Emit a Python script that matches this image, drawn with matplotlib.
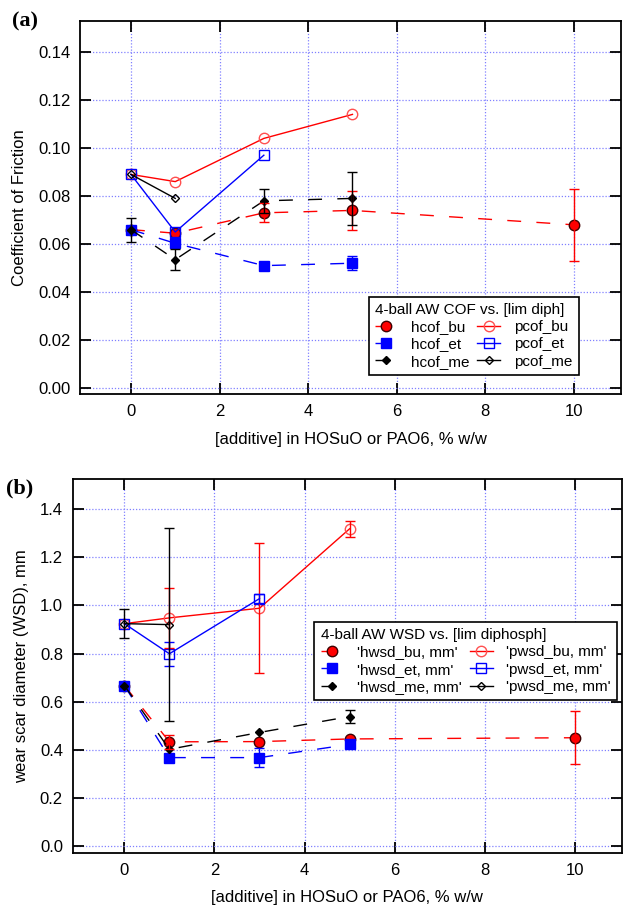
import numpy as np
import matplotlib
matplotlib.use("Agg")
import matplotlib.pyplot as plt

plt.rcParams["font.family"] = ["Liberation Sans", "DejaVu Sans"]

nan = np.nan

# ---- panel (a): coefficient of friction ----
x_bu = [0, 1, 3, 5, 10]
x_et = [0, 1, 3, 5]
x_me = [0, 1, 3, 5]
hcof_bu = [0.066, 0.0645, 0.073, 0.074, 0.068]
hcof_bu_err = [nan, nan, 0.004, 0.008, 0.015]
hcof_et = [0.066, 0.0603, 0.051, 0.052]
hcof_et_err = [nan, nan, nan, 0.003]
hcof_me = [0.066, 0.0535, 0.078, 0.079]
hcof_me_err = [0.005, 0.0045, 0.005, 0.011]

xp_bu = [0, 1, 3, 5]
xp_et = [0, 1, 3]
xp_me = [0, 1]
pcof_bu = [0.089, 0.086, 0.104, 0.114]
pcof_et = [0.089, 0.065, 0.097]
pcof_me = [0.089, 0.079]

# ---- panel (b): wear scar diameter ----
hwsd_bu = [0.667, 0.433, 0.434, 0.445, 0.45]
hwsd_bu_err = [nan, 0.03, nan, nan, 0.11]
hwsd_et = [0.667, 0.3675, 0.3675, 0.422]
hwsd_et_err = [nan, nan, 0.038, nan]
hwsd_me = [0.667, 0.402, 0.472, 0.538]
hwsd_me_err = [nan, nan, nan, 0.028]

pwsd_bu = [0.924, 0.948, 0.988, 1.318]
pwsd_bu_err = [nan, 0.125, 0.27, 0.033]
pwsd_et = [0.924, 0.799, 1.028]
pwsd_et_err = [nan, 0.05, 0.02]
pwsd_me = [0.924, 0.92]
pwsd_me_err = [0.061, 0.40]

RED = "#ff0000"
PINK = "#ff5050"
BLUE = "#0000ff"
BLACK = "#000000"
GRID = "#8080ff"
DASH = (10, 11)


def series(ax, x, y, err, color, marker, ms, label, dashed, filled, mec=None):
    x = np.asarray(x, float)
    y = np.asarray(y, float)
    kw = dict(color=color, lw=1.0, marker=marker, ms=ms, label=label,
              mew=1.0, mec=mec or color, zorder=3)
    kw["mfc"] = color if filled else "none"
    line, = ax.plot(x, y, **kw)
    if dashed:
        line.set_dashes(DASH)
    if err is not None:
        e = np.asarray(err, float)
        m = ~np.isnan(e)
        ax.errorbar(x[m], y[m], yerr=e[m], fmt="none", ecolor=color,
                    elinewidth=1.0, capsize=3.8, capthick=1.0, zorder=4)
    return line


def style_axes(ax, xlim, ylim, yticks, yfmt):
    ax.set_xlim(*xlim)
    ax.set_ylim(*ylim)
    ax.set_xticks([0, 2, 4, 6, 8, 10])
    ax.set_yticks(yticks)
    ax.set_yticklabels([yfmt.format(v) for v in yticks])
    ax.tick_params(direction="in", length=8, width=1.3, top=True, right=True,
                   labelsize=12, pad=7)
    for s in ax.spines.values():
        s.set_linewidth(1.3)
    ax.grid(True, color=GRID, ls=(0, (1, 1.5)), lw=0.9)
    ax.set_axisbelow(True)
    ax.set_xlabel("[additive] in HOSuO or PAO6, % w/w", fontsize=12, labelpad=9)


def add_legend(ax, handles, labels, title, loc, anchor):
    leg = ax.legend(handles, labels, ncol=2, loc=loc, bbox_to_anchor=anchor,
                    title=title, title_fontsize=11, fontsize=11,
                    alignment="left", fancybox=False, framealpha=1,
                    edgecolor="black", handlelength=1.5, handletextpad=0.9,
                    columnspacing=0.5, labelspacing=0.22, borderpad=0.4,
                    borderaxespad=0)
    leg.get_frame().set_linewidth(1.2)
    return leg


fig = plt.figure(figsize=(6.23, 9.06), dpi=100)

# panel (a)
ax1 = fig.add_axes([0.1284, 0.5648, 0.869, 0.412])
h1 = series(ax1, x_bu, hcof_bu, hcof_bu_err, RED, "o", 7.5, "hcof_bu", True, True, mec="#400000")
h2 = series(ax1, x_et, hcof_et, hcof_et_err, BLUE, "s", 7.5, "hcof_et", True, True)
h3 = series(ax1, x_me, hcof_me, hcof_me_err, BLACK, "D", 4.5, "hcof_me", True, True)
p1 = series(ax1, xp_bu, pcof_bu, None, RED, "o", 7.5, "pcof_bu", False, False, mec=PINK)
p2 = series(ax1, xp_et, pcof_et, None, BLUE, "s", 7, "pcof_et", False, False)
p3 = series(ax1, xp_me, pcof_me, None, BLACK, "D", 4.2, "pcof_me", False, False)
style_axes(ax1, (-1.15, 11.07), (-0.0026, 0.1529),
           [0.0, 0.02, 0.04, 0.06, 0.08, 0.10, 0.12, 0.14], "{:.2f}")
ax1.set_ylabel("Coefficient of Friction", fontsize=12, labelpad=8)
add_legend(ax1, [h1, h2, h3, p1, p2, p3],
           ["hcof_bu", "hcof_et", "hcof_me", "pcof_bu", "pcof_et", "pcof_me"],
           "4-ball AW COF vs. [lim diph]", "lower right", (0.921, 0.052))

# panel (b)
ax2 = fig.add_axes([0.1167, 0.0582, 0.8817, 0.4131])
g1 = series(ax2, x_bu, hwsd_bu, hwsd_bu_err, RED, "o", 7.5, "'hwsd_bu, mm'", True, True, mec="#400000")
g2 = series(ax2, x_et, hwsd_et, hwsd_et_err, BLUE, "s", 7.5, "'hwsd_et, mm'", True, True)
g3 = series(ax2, x_me, hwsd_me, hwsd_me_err, BLACK, "D", 4.5, "'hwsd_me, mm'", True, True)
q1 = series(ax2, xp_bu, pwsd_bu, pwsd_bu_err, RED, "o", 7.5, "'pwsd_bu, mm'", False, False, mec=PINK)
q2 = series(ax2, xp_et, pwsd_et, pwsd_et_err, BLUE, "s", 7, "'pwsd_et, mm'", False, False)
q3 = series(ax2, xp_me, pwsd_me, pwsd_me_err, BLACK, "D", 4.2, "'pwsd_me, mm'", False, False)
style_axes(ax2, (-1.147, 11.05), (-0.03, 1.525),
           [0.0, 0.2, 0.4, 0.6, 0.8, 1.0, 1.2, 1.4], "{:.1f}")
ax2.set_ylabel("wear scar diameter (WSD), mm", fontsize=12, labelpad=8)
add_legend(ax2, [g1, g2, g3, q1, q2, q3],
           ["'hwsd_bu, mm'", "'hwsd_et, mm'", "'hwsd_me, mm'",
            "'pwsd_bu, mm'", "'pwsd_et, mm'", "'pwsd_me, mm'"],
           "4-ball AW WSD vs. [lim diphosph]", "upper right", (0.991, 0.618))

fig.text(12 / 623, 1 - 21 / 906, "(a)", family="Liberation Serif",
         fontweight="bold", fontsize=16, va="center", ha="left")
fig.text(6 / 623, 1 - 488 / 906, "(b)", family="Liberation Serif",
         fontweight="bold", fontsize=16, va="center", ha="left")

fig.savefig("out.png", dpi=100)
